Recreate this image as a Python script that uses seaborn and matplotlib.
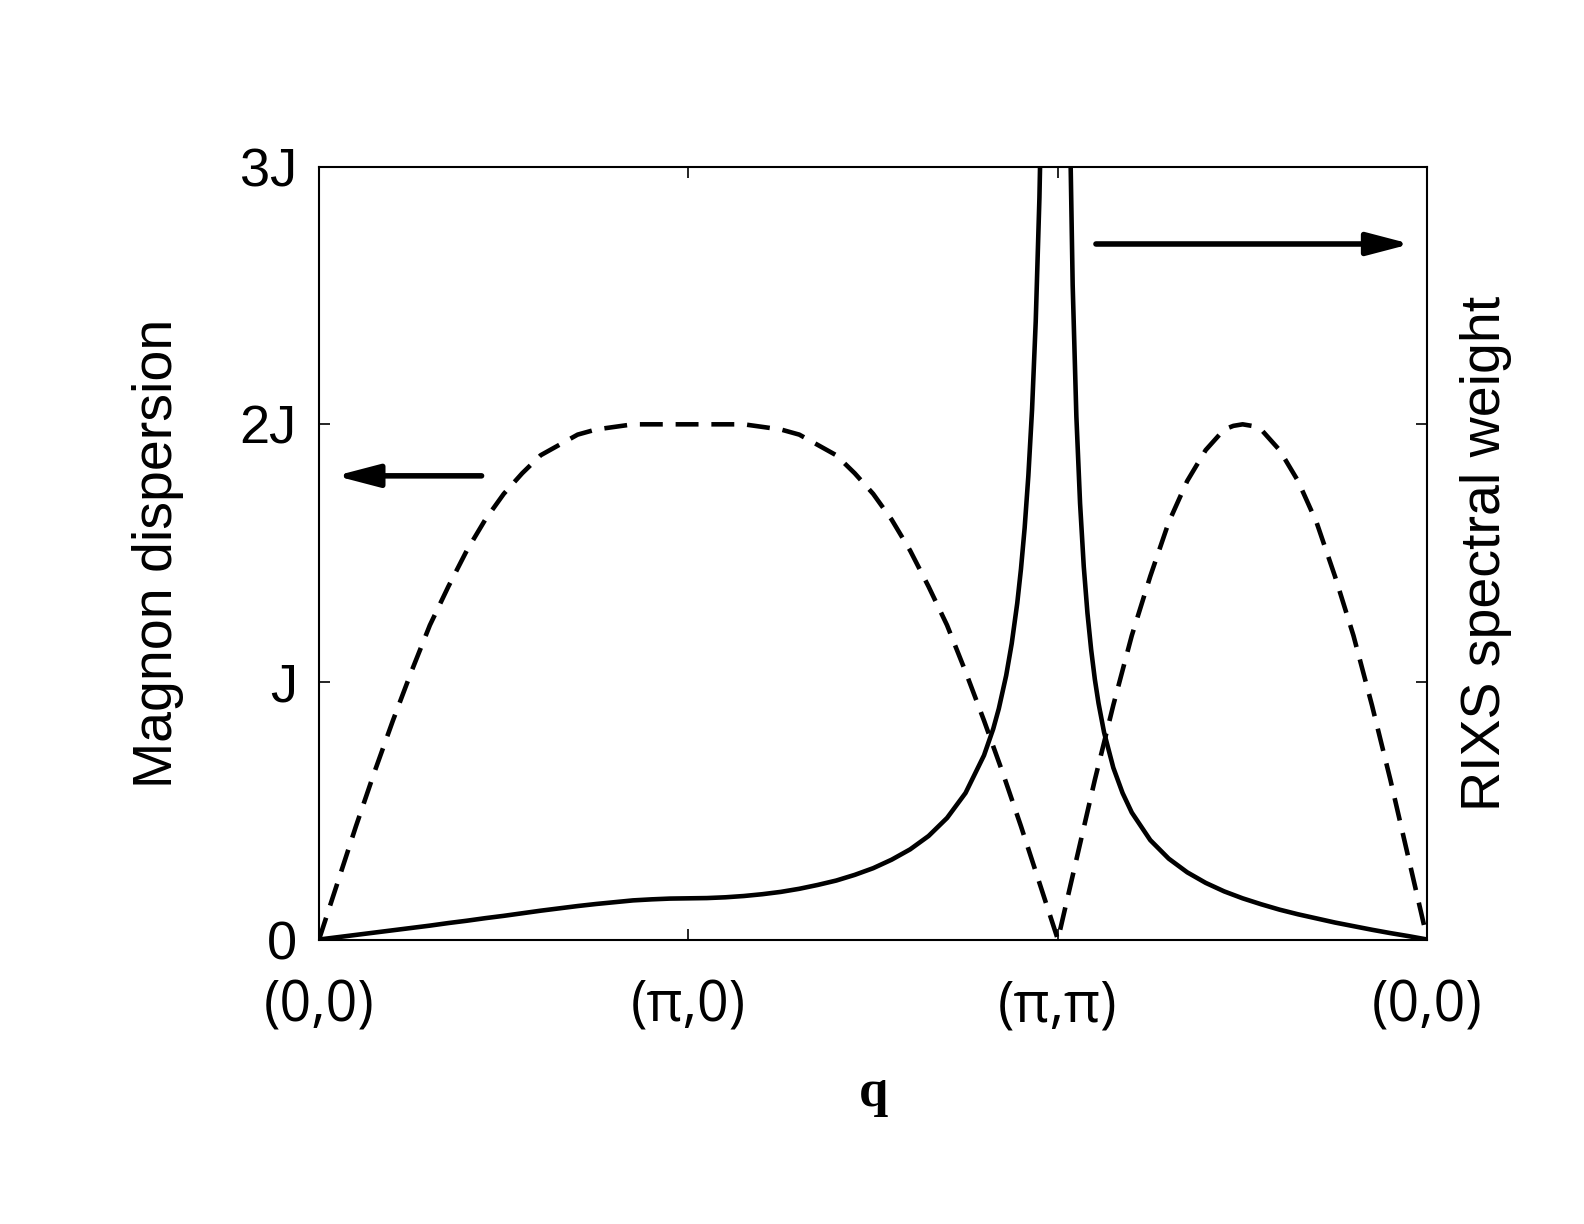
"""Magnon dispersion and RIXS spectral weight along (0,0)-(pi,0)-(pi,pi)-(0,0)."""

import matplotlib

matplotlib.use("Agg")
import matplotlib.pyplot as plt
import seaborn as sns

# path position: 0 = (0,0), 1 = (pi,0), 2 = (pi,pi), 3 = (0,0)
q_disp = [
    0.00, 0.05, 0.10, 0.15, 0.20, 0.25, 0.30, 0.35, 0.40, 0.45,
    0.50, 0.55, 0.60, 0.65, 0.70, 0.75, 0.80, 0.85, 0.90, 0.95,
    1.00, 1.05, 1.10, 1.15, 1.20, 1.25, 1.30, 1.35, 1.40, 1.45,
    1.50, 1.55, 1.60, 1.65, 1.70, 1.75, 1.80, 1.85, 1.90, 1.95,
    2.00, 2.05, 2.10, 2.15, 2.20, 2.25, 2.30, 2.35, 2.40, 2.45, 2.475,
    2.50, 2.525, 2.55, 2.60, 2.65, 2.70, 2.75, 2.80, 2.85, 2.90, 2.95, 3.00,
]
magnon = [
    0.00, 0.22, 0.44, 0.65, 0.85, 1.04, 1.22, 1.37, 1.51, 1.63,
    1.73, 1.81, 1.88, 1.92, 1.96, 1.98, 1.99, 2.00, 2.00, 2.00,
    2.00, 2.00, 2.00, 2.00, 1.99, 1.98, 1.96, 1.92, 1.88, 1.81,
    1.73, 1.63, 1.51, 1.37, 1.22, 1.04, 0.85, 0.65, 0.44, 0.22,
    0.00, 0.31, 0.62, 0.91, 1.18, 1.41, 1.62, 1.78, 1.90, 1.98, 1.994,
    2.00, 1.994, 1.98, 1.90, 1.78, 1.62, 1.41, 1.18, 0.91, 0.62, 0.31, 0.00,
]

q_rixs = [
    0.00, 0.05, 0.10, 0.15, 0.20, 0.25, 0.30, 0.35, 0.40, 0.45,
    0.50, 0.55, 0.60, 0.65, 0.70, 0.75, 0.80, 0.85, 0.90, 0.95,
    1.00, 1.05, 1.10, 1.15, 1.20, 1.25, 1.30, 1.35, 1.40, 1.45,
    1.50, 1.55, 1.60, 1.65, 1.70, 1.75, 1.80, 1.825, 1.84, 1.86,
    1.875, 1.89, 1.90, 1.91, 1.92, 1.93, 1.94, 1.95, 1.96,
    2.03, 2.04, 2.05, 2.06, 2.07, 2.08, 2.09, 2.10, 2.11, 2.125,
    2.15, 2.175, 2.20, 2.25, 2.30, 2.35, 2.40, 2.45, 2.50, 2.55,
    2.60, 2.65, 2.70, 2.75, 2.80, 2.85, 2.90, 2.95, 3.00,
]
rixs = [
    0.000, 0.009, 0.018, 0.027, 0.036, 0.045, 0.054, 0.064, 0.073, 0.083,
    0.092, 0.102, 0.112, 0.121, 0.130, 0.138, 0.145, 0.152, 0.156, 0.159,
    0.160, 0.161, 0.164, 0.169, 0.176, 0.185, 0.197, 0.212, 0.229, 0.251,
    0.277, 0.310, 0.350, 0.402, 0.472, 0.569, 0.715, 0.818, 0.896, 1.025,
    1.149, 1.306, 1.438, 1.598, 1.80, 2.056, 2.40, 2.88, 3.60,
    3.39, 2.54, 2.03, 1.693, 1.448, 1.267, 1.125, 1.010, 0.917, 0.804,
    0.667, 0.569, 0.493, 0.386, 0.314, 0.261, 0.220, 0.187, 0.160, 0.137,
    0.116, 0.098, 0.082, 0.066, 0.052, 0.038, 0.025, 0.013, 0.000,
]

x_ticks = [0, 1, 2, 3]
x_labels = ["(0,0)", "(π,0)", "(π,π)", "(0,0)"]
y_ticks = [0, 1, 2, 3]
y_labels = ["0", "J", "2J", "3J"]

sns.set_style("ticks")
plt.rcParams["font.family"] = ["Liberation Sans", "DejaVu Sans"]
plt.rcParams["text.color"] = "black"
plt.rcParams["axes.labelcolor"] = "black"
plt.rcParams["xtick.color"] = "black"
plt.rcParams["ytick.color"] = "black"

fig = plt.figure(figsize=(15.84, 12.24), dpi=100)
ax = fig.add_axes([0.2014, 0.2324, 0.6997, 0.6314])

sns.lineplot(x=q_disp, y=magnon, color="black", linewidth=3.3, ax=ax)
ax.lines[-1].set_dashes((5.0, 2.8))
sns.lineplot(x=q_rixs, y=rixs, color="black", linewidth=3.3, ax=ax)

ax.set_xlim(0, 3)
ax.set_ylim(0, 3)
ax.set_xticks(x_ticks)
ax.set_xticklabels(x_labels, fontsize=40, family=["Open Sans", "DejaVu Sans"])
ax.set_yticks(y_ticks)
ax.set_yticklabels(y_labels, fontsize=39)
ax.tick_params(axis="both", direction="in", length=8, width=1.2,
               top=True, right=True, color="black", labelcolor="black")
ax.tick_params(axis="x", pad=28)
ax.tick_params(axis="y", pad=16)
for side in ax.spines.values():
    side.set_linewidth(1.5)
    side.set_color("black")

ax.set_xlabel("q", fontsize=38, fontweight="bold", family="Liberation Serif", labelpad=24)
ax.set_ylabel("Magnon dispersion", fontsize=40, labelpad=31)
ax.yaxis.set_label_coords(-0.145, 0.5)
ax.yaxis.label.set_va("center")
ax.text(1.053, 0.5, "RIXS spectral weight", transform=ax.transAxes,
        rotation=90, ha="center", va="center", fontsize=40)

arrow = dict(arrowstyle="-|>,head_length=0.65,head_width=0.17", lw=4,
             color="black", mutation_scale=40, shrinkA=0, shrinkB=0)
ax.annotate("", xy=(0.045, 1.80), xytext=(0.44, 1.80), arrowprops=arrow)
ax.annotate("", xy=(2.955, 2.70), xytext=(2.103, 2.70), arrowprops=arrow)

fig.savefig("out.png", dpi=100)
plt.close(fig)
